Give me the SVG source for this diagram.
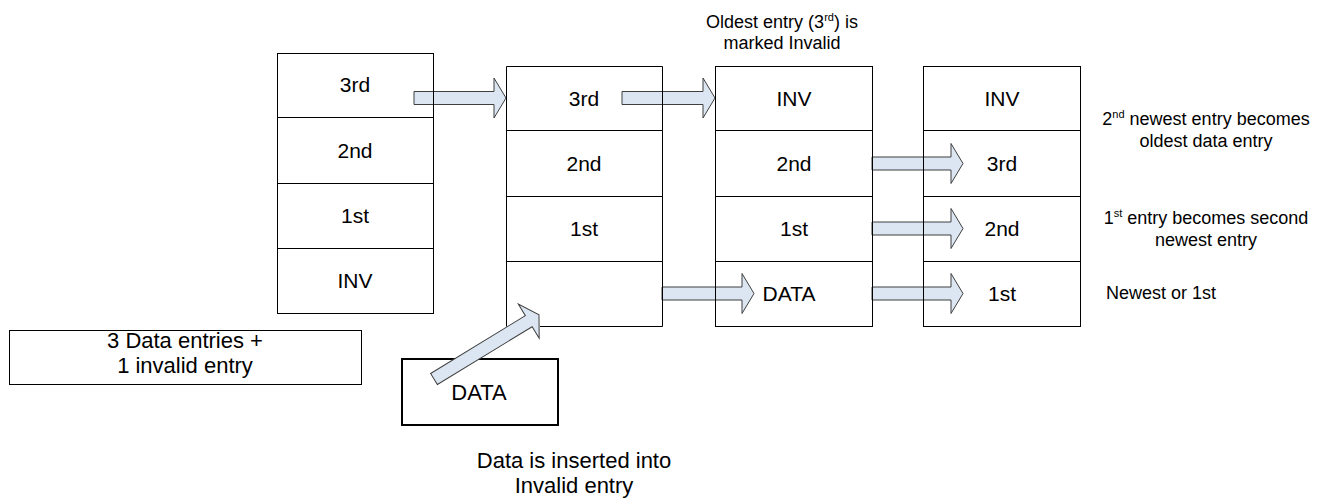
<svg xmlns="http://www.w3.org/2000/svg" width="1325" height="499" viewBox="0 0 1325 499">
<defs>
<style>
.cell{fill:none;stroke:#000;stroke-width:1}
.sep{stroke:#000;stroke-width:1}
.lbl{font-family:"Liberation Sans",Arial,sans-serif;font-size:21px;fill:#000;text-anchor:middle}
.big{font-family:"Liberation Sans",Arial,sans-serif;font-size:22px;fill:#000;text-anchor:middle}
.note{font-family:"Liberation Sans",Arial,sans-serif;font-size:18px;fill:#000;text-anchor:middle}
.arr{fill:#dce6f2;stroke:#3f3f3f;stroke-width:1;stroke-linejoin:miter}
</style>
</defs>
<rect width="1325" height="499" fill="#fff"/>

<g id="summary">
<rect x="9.5" y="330.5" width="352" height="54" fill="#fff" stroke="#000" stroke-width="1"/>
<text class="big" x="185" y="348">3 Data entries +</text>
<text class="big" x="185" y="373">1 invalid entry</text>
</g>

<g id="data-in">
<rect x="402" y="359" width="156" height="66" fill="#fff" stroke="#000" stroke-width="2"/>
<text class="big" x="479" y="400">DATA</text>
</g>

<g id="connectors">
<path class="arr" transform="translate(414,98)" d="M0,-6.5 H80 V-20 L92,0 L80,20 V6.5 H0 Z"/>
<path class="arr" transform="translate(622,98)" d="M0,-6.5 H81 V-20 L93,0 L81,20 V6.5 H0 Z"/>
<path class="arr" transform="translate(872,163.5)" d="M0,-6.5 H79 V-20 L91,0 L79,20 V6.5 H0 Z"/>
<path class="arr" transform="translate(872,228.5)" d="M0,-6.5 H79 V-20 L91,0 L79,20 V6.5 H0 Z"/>
<path class="arr" transform="translate(872,293.5)" d="M0,-6.5 H79 V-20 L91,0 L79,20 V6.5 H0 Z"/>
<path class="arr" transform="translate(662,293.5)" d="M0,-6.5 H80 V-20 L92,0 L80,20 V6.5 H0 Z"/>
<path class="arr" transform="translate(434,379) rotate(-31.4)" d="M0,-6.5 H111 V-20 L123,0 L111,20 V6.5 H0 Z"/>
</g>

<g id="col1">
<rect class="cell" x="277.5" y="53.5" width="156" height="260"/>
<line class="sep" x1="277.5" y1="117.5" x2="433.5" y2="117.5"/>
<line class="sep" x1="277.5" y1="183.5" x2="433.5" y2="183.5"/>
<line class="sep" x1="277.5" y1="248.5" x2="433.5" y2="248.5"/>
<text class="lbl" x="355" y="92">3rd</text>
<text class="lbl" x="355" y="158">2nd</text>
<text class="lbl" x="355" y="223">1st</text>
<text class="lbl" x="355" y="288">INV</text>
</g>

<g id="col2">
<path class="cell" d="M662.5,326.5 H540 M506.5,326.5 V66.5 H662.5 V326.5"/>
<line class="sep" x1="506.5" y1="130.5" x2="662.5" y2="130.5"/>
<line class="sep" x1="506.5" y1="196.5" x2="662.5" y2="196.5"/>
<line class="sep" x1="506.5" y1="261.5" x2="662.5" y2="261.5"/>
<text class="lbl" x="584" y="106">3rd</text>
<text class="lbl" x="584" y="171">2nd</text>
<text class="lbl" x="584" y="236">1st</text>
</g>

<g id="col3">
<rect class="cell" x="715.5" y="66.5" width="157" height="260"/>
<line class="sep" x1="715.5" y1="130.5" x2="872.5" y2="130.5"/>
<line class="sep" x1="715.5" y1="196.5" x2="872.5" y2="196.5"/>
<line class="sep" x1="715.5" y1="261.5" x2="872.5" y2="261.5"/>
<text class="lbl" x="794" y="106">INV</text>
<text class="lbl" x="794" y="171">2nd</text>
<text class="lbl" x="794" y="236">1st</text>
<text class="lbl" x="789" y="301">DATA</text>
</g>

<g id="col4">
<rect class="cell" x="923.5" y="66.5" width="157" height="260"/>
<line class="sep" x1="923.5" y1="130.5" x2="1080.5" y2="130.5"/>
<line class="sep" x1="923.5" y1="196.5" x2="1080.5" y2="196.5"/>
<line class="sep" x1="923.5" y1="261.5" x2="1080.5" y2="261.5"/>
<text class="lbl" x="1002" y="106">INV</text>
<text class="lbl" x="1002" y="171">3rd</text>
<text class="lbl" x="1002" y="236">2nd</text>
<text class="lbl" x="1002" y="301">1st</text>
</g>

<g id="notes">
<text class="note" x="782" y="28">Oldest entry (3<tspan font-size="11" dy="-7">rd</tspan><tspan dy="7">) is</tspan></text>
<text class="note" x="782" y="49">marked Invalid</text>
<text class="note" x="1206" y="125">2<tspan font-size="11" dy="-7">nd</tspan><tspan dy="7"> newest entry becomes</tspan></text>
<text class="note" x="1206" y="147">oldest data entry</text>
<text class="note" x="1206" y="224">1<tspan font-size="11" dy="-7">st</tspan><tspan dy="7"> entry becomes second</tspan></text>
<text class="note" x="1206" y="246">newest entry</text>
<text class="note" x="1106" y="299" style="text-anchor:start">Newest or 1st</text>
<text class="big" x="574" y="468">Data is inserted into</text>
<text class="big" x="574" y="493">Invalid entry</text>
</g>
</svg>
